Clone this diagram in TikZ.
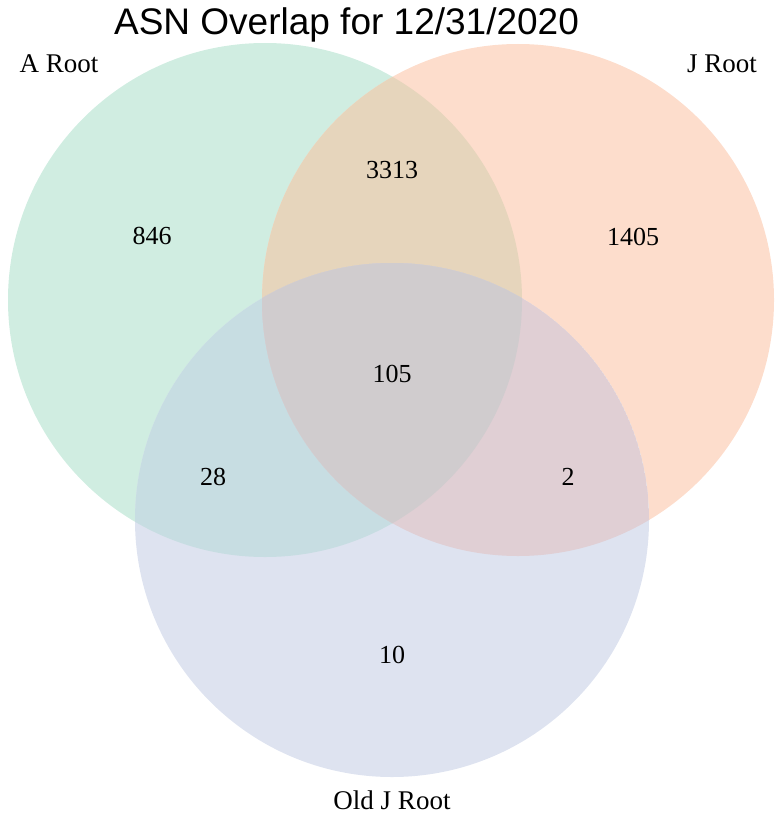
\documentclass[tikz,border=0pt]{standalone}
\usepackage{fontspec}
\newfontfamily\labelfont{Liberation Serif}
\newfontfamily\titlefont{Liberation Sans}
\definecolor{cA}{RGB}{208,237,225}
\definecolor{cJ}{RGB}{253,221,204}
\definecolor{cO}{RGB}{222,227,240}
\definecolor{cAJ}{RGB}{230,213,188}
\definecolor{cAO}{RGB}{199,221,226}
\definecolor{cJO}{RGB}{224,207,212}
\definecolor{cAJO}{RGB}{208,204,206}
\tikzset{
  num/.style={font=\labelfont\fontsize{26}{26}\selectfont, inner sep=0pt, anchor=center},
  setlabel/.style={font=\labelfont\fontsize{27}{27}\selectfont, inner sep=0pt, anchor=base},
  titletext/.style={font=\titlefont\fontsize{37}{37}\selectfont, inner sep=0pt, anchor=base}
}
\begin{document}
\begin{tikzpicture}[x=1pt,y=-1pt]
\useasboundingbox (0,0) rectangle (775,816);
\coordinate (A) at (265,300);
\coordinate (J) at (518,300);
\coordinate (O) at (392,520);
\def\rA{257pt}
\def\rJ{256pt}
\def\rO{257pt}
\fill[cA] (A) circle[radius=\rA];
\fill[cJ] (J) circle[radius=\rJ];
\fill[cO] (O) circle[radius=\rO];
\begin{scope}
  \clip (A) circle[radius=\rA];
  \fill[cAJ] (J) circle[radius=\rJ];
  \fill[cAO] (O) circle[radius=\rO];
  \clip (J) circle[radius=\rJ];
  \fill[cAJO] (O) circle[radius=\rO];
\end{scope}
\begin{scope}
  \clip (J) circle[radius=\rJ];
  \clip (O) circle[radius=\rO];
  \fill[cJO] (O) circle[radius=\rO];
  \clip (A) circle[radius=\rA];
  \fill[cAJO] (O) circle[radius=\rO];
\end{scope}
\node[titletext] (title) at (346.5,35) {ASN Overlap for 12/31/2020};
\node[setlabel] (la) at (59,72) {A Root};
\node[setlabel] (lj) at (722,72) {J Root};
\node[setlabel] (lo) at (392,809) {Old J Root};
\node[num] (n846) at (152,236) {846};
\node[num] (n3313) at (392,170) {3313};
\node[num] (n1405) at (633,237) {1405};
\node[num] (n105) at (392,374) {105};
\node[num] (n28) at (213,477) {28};
\node[num] (n2) at (568,477) {2};
\node[num] (n10) at (392,655) {10};
\end{tikzpicture}
\end{document}
